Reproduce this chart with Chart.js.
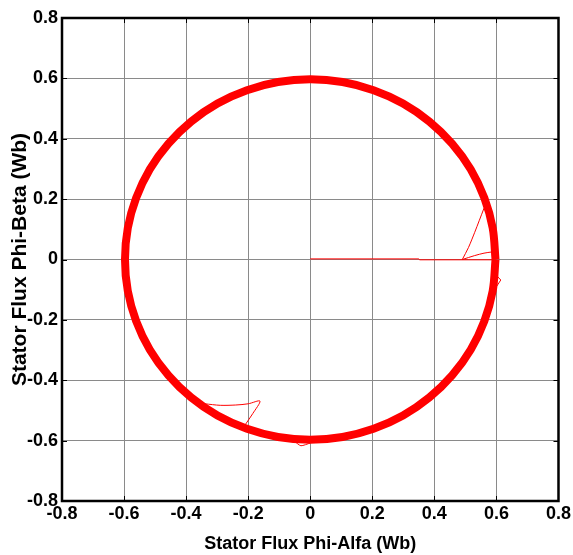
<!DOCTYPE html>
<html><head><meta charset="utf-8">
<script src="https://cdn.jsdelivr.net/npm/chart.js@4"></script>
<style>html,body{margin:0;padding:0;background:#fff}#wrap{width:573px;height:555px}</style>
</head><body><div id="wrap"><canvas id="c" width="573" height="555"></canvas></div>
<script>
// Axis ticks
const xTicks = [-0.8,-0.6,-0.4,-0.2,0,0.2,0.4,0.6,0.8];
const yTicks = [-0.8,-0.6,-0.4,-0.2,0,0.2,0.4,0.6,0.8];
// Steady-state stator flux locus (alfa, beta)
const circleAlfa = [0.597,0.588,0.561,0.517,0.457,0.384,0.299,0.204,0.104,0,-0.104,-0.204,-0.299,-0.384,-0.457,-0.517,-0.561,-0.588,-0.597,-0.588,-0.561,-0.517,-0.457,-0.384,-0.299,-0.204,-0.104,0,0.104,0.204,0.299,0.384,0.457,0.517,0.561,0.588,0.597];
const circleBeta = [0,0.104,0.204,0.299,0.384,0.457,0.517,0.561,0.588,0.597,0.588,0.561,0.517,0.457,0.384,0.299,0.204,0.104,0,-0.104,-0.204,-0.299,-0.384,-0.457,-0.517,-0.561,-0.588,-0.597,-0.588,-0.561,-0.517,-0.457,-0.384,-0.299,-0.204,-0.104,0];
// Start-up transient
const startAlfa = [0,0.35,0.352,0.6];
const startBeta = [0.002,0.002,-0.001,-0.001];
const riseAlfa = [0.49,0.51,0.53,0.545,0.56];
const riseBeta = [0,0.04,0.09,0.13,0.17];
const branchAlfa = [0.49,0.53,0.56,0.585];
const branchBeta = [0,0.013,0.021,0.025];
const spikeRAlfa = [0.598,0.614,0.6];
const spikeRBeta = [-0.05,-0.068,-0.09];
// Lower-left disturbance
const loopAlfa = [-0.34,-0.29,-0.24,-0.2,-0.162,-0.185,-0.21];
const loopBeta = [-0.478,-0.483,-0.482,-0.478,-0.469,-0.51,-0.548];
const spikeBAlfa = [-0.05,-0.03,0.0];
const spikeBBeta = [-0.603,-0.617,-0.608];

const pts = (a,b) => a.map((v,i)=>({x:v,y:b[i]}));
const thin = (a,b,t) => ({data:pts(a,b), borderColor:'#ff0000', borderWidth:1, pointRadius:0, showLine:true, tension:t, fill:false});

const framePlugin = {
  id:'frame',
  afterDraw(chart){
    const {ctx, chartArea:a, scales} = chart;
    ctx.save();
    ctx.strokeStyle='#000';
    ctx.lineWidth=1;
    ctx.beginPath();
    xTicks.forEach(v=>{const p=Math.round(scales.x.getPixelForValue(v))+0.5; ctx.moveTo(p,a.bottom); ctx.lineTo(p,a.bottom-5); ctx.moveTo(p,a.top); ctx.lineTo(p,a.top+5);});
    yTicks.forEach(v=>{const p=Math.round(scales.y.getPixelForValue(v))+0.5; ctx.moveTo(a.left,p); ctx.lineTo(a.left+5,p); ctx.moveTo(a.right,p); ctx.lineTo(a.right-5,p);});
    ctx.stroke();
    ctx.lineWidth=2.5;
    ctx.strokeRect(a.left, a.top, a.right-a.left, a.bottom-a.top);
    ctx.restore();
  }
};

new Chart(document.getElementById('c'), {
  type:'scatter',
  data:{datasets:[
    {data:pts(circleAlfa,circleBeta), borderColor:'#ff0000', borderWidth:8, pointRadius:0, showLine:true, tension:0.35, fill:false},
    thin(startAlfa,startBeta,0), thin(riseAlfa,riseBeta,0.3), thin(branchAlfa,branchBeta,0.3), thin(spikeRAlfa,spikeRBeta,0),
    thin(loopAlfa,loopBeta,0.3), thin(spikeBAlfa,spikeBBeta,0.2)
  ]},
  options:{
    responsive:false, animation:false, devicePixelRatio:1,
    layout:{padding:{top:18,right:12,left:0,bottom:0}},
    plugins:{legend:{display:false}, tooltip:{enabled:false}},
    scales:{
      x:{type:'linear', min:-0.8, max:0.8,
        afterBuildTicks:s=>{s.ticks=xTicks.map(v=>({value:v}));},
        afterFit:s=>{s.height=54;},
        ticks:{color:'#000', font:{family:'Liberation Sans', size:18, weight:'bold'}, padding:2, maxRotation:0,
          callback:v=>v===0?'0':v.toFixed(1)},
        grid:{color:'#8a8a8a', lineWidth:1, drawTicks:false},
        border:{display:false},
        title:{display:true, text:'Stator Flux Phi-Alfa (Wb)', color:'#000', font:{family:'Liberation Sans', size:18, weight:'bold'}, padding:{top:1,bottom:0}}
      },
      y:{type:'linear', min:-0.8, max:0.8,
        afterBuildTicks:s=>{s.ticks=yTicks.map(v=>({value:v}));},
        afterFit:s=>{s.width=62;},
        ticks:{color:'#000', font:{family:'Liberation Sans', size:18, weight:'bold'}, padding:4,
          callback:v=>v===0?'0':v.toFixed(1)},
        grid:{color:'#8a8a8a', lineWidth:1, drawTicks:false},
        border:{display:false},
        title:{display:true, text:'Stator Flux Phi-Beta (Wb)', color:'#000', font:{family:'Liberation Sans', size:21, weight:'bold'}, padding:{top:8,bottom:0}}
      }
    }
  },
  plugins:[framePlugin]
});
</script></body></html>
